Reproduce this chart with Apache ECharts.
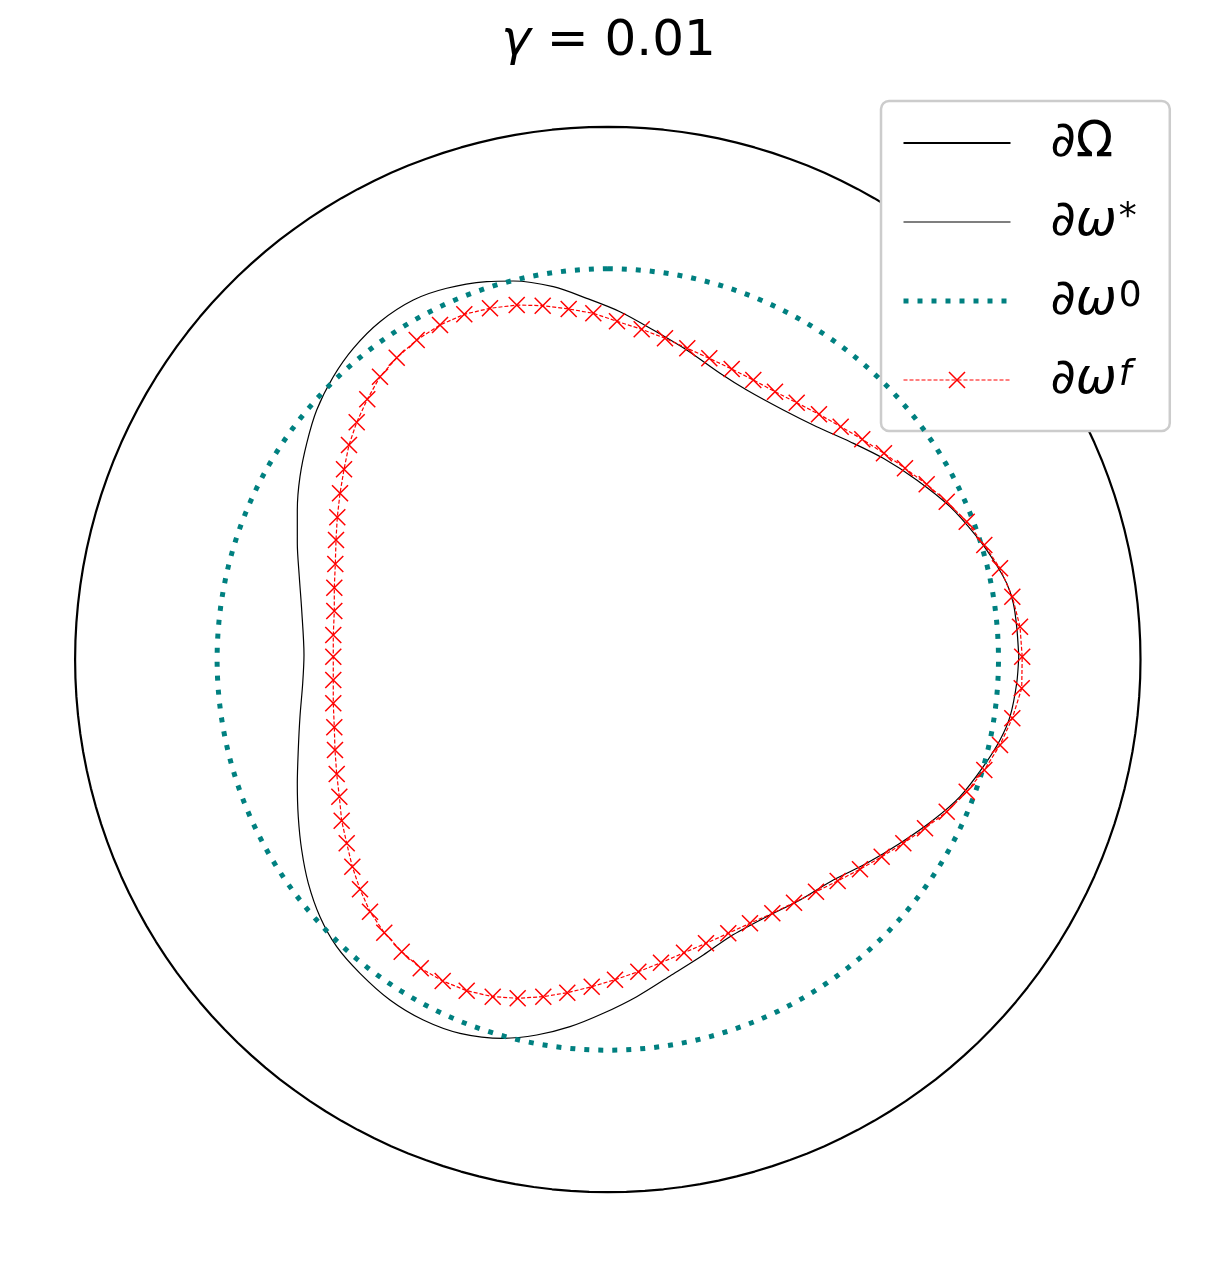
<!DOCTYPE html>
<html>
<head>
<meta charset="utf-8">
<script src="https://cdn.jsdelivr.net/npm/echarts@6/dist/echarts.min.js"></script>
<style>
html,body{margin:0;padding:0;background:#fff;}
#c{width:1217px;height:1264px;}
</style>
</head>
<body>
<div id="c"></div>
<script>
// ---- data ----
const titleGamma = 'γ';
const titleValue = '= 0.01';
const legendNames = ['∂Ω', '∂ω*', '∂ω⁰', '∂ωᶠ'];

// angles (degrees) at which the two circles are sampled
const circleAngles = [0,2,4,6,8,10,12,14,16,18,20,22,24,26,28,30,32,34,36,38,40,42,44,46,48,50,
  52,54,56,58,60,62,64,66,68,70,72,74,76,78,80,82,84,86,88,90,92,94,96,98,100,
  102,104,106,108,110,112,114,116,118,120,122,124,126,128,130,132,134,136,138,140,
  142,144,146,148,150,152,154,156,158,160,162,164,166,168,170,172,174,176,178,180,
  182,184,186,188,190,192,194,196,198,200,202,204,206,208,210,212,214,216,218,220,
  222,224,226,228,230,232,234,236,238,240,242,244,246,248,250,252,254,256,258,260,
  262,264,266,268,270,272,274,276,278,280,282,284,286,288,290,292,294,296,298,300,
  302,304,306,308,310,312,314,316,318,320,322,324,326,328,330,332,334,336,338,340,
  342,344,346,348,350,352,354,356,358,360];
const omegaRadius = 1.0;      // ∂Ω
const omega0Radius = 0.7335;  // ∂ω⁰

// ∂ω* (target shape)
const starX = [0.7689,0.7650,0.7587,0.7463,0.7212,0.6902,0.6402,0.5779,0.5154,0.4531,0.3908,0.3283,
  0.2599,0.2099,0.1476,0.0851,0.0228,-0.0395,-0.1020,
  -0.1768,-0.2266,-0.3014,-0.3639,-0.4262,-0.4761,-0.5136,-0.5446,-0.5633,-0.5759,
  -0.5809,-0.5809,-0.5772,-0.5727,-0.5684,-0.5708,-0.5759,-0.5791,-0.5809,-0.5791,
  -0.5727,-0.5603,-0.5385,-0.5072,-0.4636,-0.4075,-0.3452,-0.2765,
  -0.1955,-0.1330,-0.0707,-0.0084,0.0541,0.1164,0.1787,0.2286,
  0.2973,0.3596,0.4219,0.4844,0.5467,0.6090,0.6589,0.7025,0.7338,0.7525,0.7650,
  0.7689];
const starY = [0.0066,0.0618,0.1058,0.1435,0.1874,0.2313,0.2878,0.3380,0.3789,0.4102,0.4384,0.4699,
  0.5075,0.5390,0.5829,0.6205,0.6550,0.6802,0.7021,
  0.7128,0.7115,0.6991,0.6770,0.6362,0.5861,0.5326,0.4699,0.4072,0.3443,
  0.2815,0.2188,0.1559,0.0932,0.0085,-0.0448,-0.1077,-0.1704,-0.2331,-0.2960,
  -0.3588,-0.4215,-0.4844,-0.5409,-0.5910,-0.6412,-0.6789,-0.7040,
  -0.7134,-0.7072,-0.6915,-0.6663,-0.6350,-0.5960,-0.5565,-0.5220,
  -0.4844,-0.4529,-0.4153,-0.3838,-0.3461,-0.3023,-0.2584,-0.2019,-0.1516,-0.1077,-0.0448,
  0.0066];

// ∂ω^f (final shape, one point per marker)
const finalX = [0.7753,0.7712,0.7568,0.7338,0.7044,0.6715,0.6341,0.5966,0.5560,0.5167,
  0.4761,0.4357,0.3951,0.3534,0.3128,0.2722,0.2318,0.1899,0.1487,0.1070,
  0.0634,0.0172,-0.0271,-0.0732,-0.1218,-0.1704,-0.2204,-0.2685,-0.3139,-0.3575,
  -0.3949,-0.4262,-0.4500,-0.4698,-0.4842,-0.4935,-0.5010,-0.5061,-0.5085,-0.5098,
  -0.5117,-0.5117,-0.5136,-0.5136,-0.5136,-0.5136,-0.5117,-0.5104,-0.5072,-0.5023,
  -0.4979,-0.4885,-0.4780,-0.4636,-0.4449,-0.4182,-0.3856,-0.3500,-0.3089,-0.2640,
  -0.2153,-0.1686,-0.1207,-0.0758,-0.0301,0.0135,0.0571,0.0995,0.1426,0.1837,
  0.2254,0.2660,0.3078,0.3484,0.3895,0.4301,0.4718,0.5124,0.5529,0.5935,
  0.6341,0.6715,0.7044,0.7338,0.7568,0.7744,0.7753];
const finalY = [0.0053,0.0618,0.1183,0.1718,0.2156,0.2595,0.2972,0.3299,0.3601,0.3883,
  0.4147,0.4384,0.4618,0.4836,0.5043,0.5264,0.5471,0.5672,0.5861,0.6049,
  0.6218,0.6369,0.6520,0.6601,0.6663,0.6676,0.6614,0.6501,0.6299,0.6017,
  0.5684,0.5326,0.4900,0.4467,0.4040,0.3582,0.3130,0.2678,0.2250,0.1798,
  0.1352,0.0913,0.0461,0.0053,-0.0386,-0.0825,-0.1277,-0.1704,-0.2156,-0.2584,
  -0.3036,-0.3461,-0.3902,-0.4328,-0.4750,-0.5145,-0.5503,-0.5815,-0.6055,-0.6237,
  -0.6350,-0.6380,-0.6350,-0.6275,-0.6162,-0.6030,-0.5879,-0.5710,-0.5522,-0.5345,
  -0.5156,-0.4968,-0.4780,-0.4580,-0.4373,-0.4171,-0.3951,-0.3714,-0.3461,-0.3179,
  -0.2866,-0.2490,-0.2081,-0.1610,-0.1107,-0.0542,0.0053];

// ---- chart ----
const zip = (xs, ys) => xs.map((x, i) => [x, ys[i]]);
const ring = r => circleAngles.map(a => [r, a]);
const finalData = zip(finalX, finalY).map((p, i, arr) =>
  i === arr.length - 1 ? { value: p, symbol: 'none' } : p);

const FONT = 'DejaVu Sans';
const legendRich = {};
legendRich[legendNames[0]] = '{p|∂Ω}';
legendRich[legendNames[1]] = '{p|∂}{w|ω}{s|*}';
legendRich[legendNames[2]] = '{p|∂}{w|ω}{s|0}';
legendRich[legendNames[3]] = '{p|∂}{w|ω}{si|f}';

// polar: 1 data unit = 532.7 px; axis extends to 1.05 so the unit circle is not clipped
const POLAR_MAX = 1.05;

const chart = echarts.init(document.getElementById('c'), null, { renderer: 'canvas', width: 1217, height: 1264 });

const option = {
  animation: false,
  backgroundColor: '#ffffff',
  title: {
    text: '{g|' + titleGamma + '} {t|' + titleValue + '}',
    left: 'center',
    top: 17,
    padding: 0,
    textStyle: {
      fontFamily: FONT, fontSize: 50, color: '#000', fontWeight: 'normal',
      rich: {
        g: { fontFamily: FONT, fontStyle: 'italic', fontSize: 50, color: '#000' },
        t: { fontFamily: FONT, fontSize: 50, color: '#000' }
      }
    }
  },
  polar: { center: [607.8, 659.5], radius: 532.7 * POLAR_MAX },
  angleAxis: { type: 'value', min: 0, max: 360, show: false },
  radiusAxis: { type: 'value', min: 0, max: POLAR_MAX, show: false },
  grid: { left: 19.85, top: 75.4, width: 1175.9, height: 1168.2, show: false },
  xAxis: { type: 'value', min: -1.1, max: 1.1, show: false },
  yAxis: { type: 'value', min: -1.1, max: 1.1, show: false },
  legend: {
    orient: 'vertical',
    left: 881, top: 101,
    padding: [14, 28, 23, 20],
    itemWidth: 107, itemHeight: 20, itemGap: 23,
    backgroundColor: '#ffffff',
    borderColor: '#cccccc', borderWidth: 2.5, borderRadius: 8,
    selectedMode: false,
    data: legendNames,
    lineStyle: { width: 'inherit' },
    itemStyle: { borderWidth: 'inherit' },
    formatter: name => legendRich[name],
    textStyle: {
      fontFamily: FONT, fontSize: 49, lineHeight: 56, color: '#000',
      padding: [0, 0, 0, 35],
      rich: {
        p: { fontFamily: FONT, fontSize: 49, lineHeight: 56, color: '#000' },
        w: { fontFamily: FONT, fontStyle: 'italic', fontSize: 49, lineHeight: 56, color: '#000' },
        s: { fontFamily: FONT, fontSize: 36, color: '#000', padding: [0, 0, 8, 2] },
        si: { fontFamily: FONT, fontStyle: 'italic', fontSize: 36, color: '#000', padding: [0, 0, 8, 2] }
      }
    }
  },
  series: [
    {
      name: legendNames[0], type: 'line', coordinateSystem: 'polar',
      data: ring(omegaRadius), clip: false,
      symbol: 'circle', symbolSize: 0, showSymbol: false,
      itemStyle: { color: 'rgba(0,0,0,0)' },
      lineStyle: { color: '#000000', width: 2.2 },
      silent: true, z: 2
    },
    {
      name: legendNames[1], type: 'line', xAxisIndex: 0, yAxisIndex: 0,
      data: zip(starX, starY), clip: false,
      smooth: 0.3,
      symbol: 'circle', symbolSize: 0, showSymbol: false,
      itemStyle: { color: 'rgba(0,0,0,0)' },
      lineStyle: { color: '#000000', width: 1.2 },
      silent: true, z: 3
    },
    {
      name: legendNames[2], type: 'line', coordinateSystem: 'polar',
      data: ring(omega0Radius), clip: false,
      symbol: 'circle', symbolSize: 0, showSymbol: false,
      itemStyle: { color: 'rgba(0,0,0,0)' },
      lineStyle: { color: '#008080', width: 5, type: [5, 9], cap: 'butt' },
      silent: true, z: 4
    },
    {
      name: legendNames[3], type: 'line', xAxisIndex: 0, yAxisIndex: 0,
      data: finalData, clip: false,
      symbol: 'path://M0 0L10 10M10 0L0 10', symbolSize: 16, showSymbol: true,
      itemStyle: { color: '#ff0000', borderColor: '#ff0000', borderWidth: 1.5 },
      lineStyle: { color: '#ff0000', width: 1.2, type: [4, 2] },
      silent: true, z: 5
    }
  ]
};
chart.setOption(option);
</script>
</body>
</html>
